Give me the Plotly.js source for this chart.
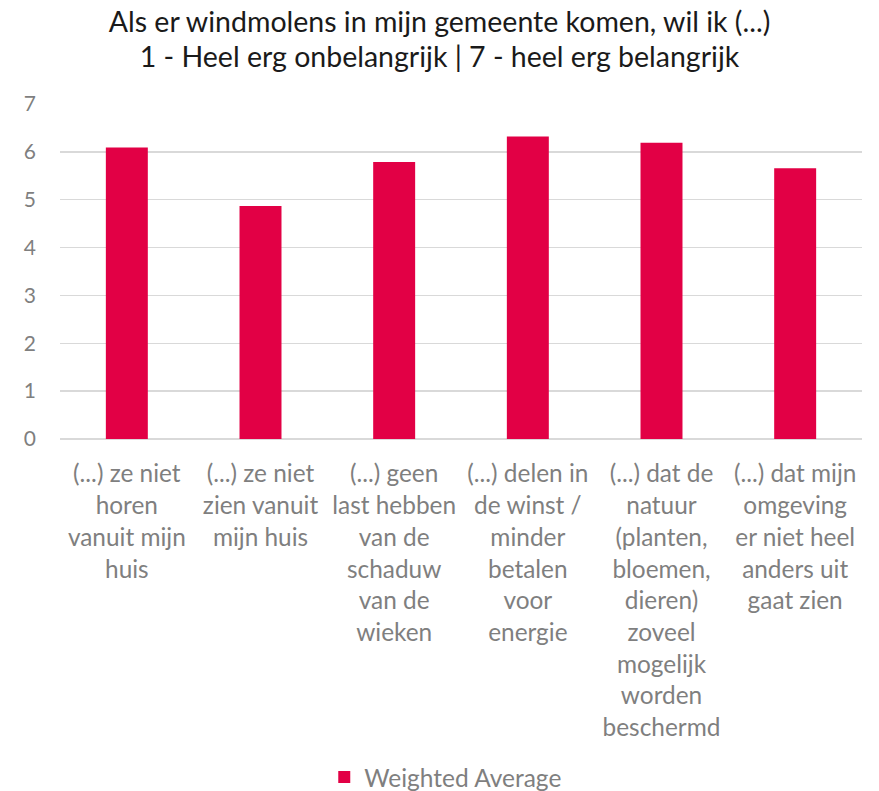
<!DOCTYPE html>
<html>
<head>
<meta charset="utf-8">
<script src="https://cdn.plot.ly/plotly-3.0.1.min.js"></script>
<style>html,body{margin:0;padding:0;background:#fff;}#chart{width:879px;height:791px;}</style>
</head>
<body>
<div id="chart"></div>
<script>
var categories = [
  ["(...) ze niet", "horen", "vanuit mijn", "huis"],
  ["(...) ze niet", "zien vanuit", "mijn huis"],
  ["(...) geen", "last hebben", "van de", "schaduw", "van de", "wieken"],
  ["(...) delen in", "de winst /", "minder", "betalen", "voor", "energie"],
  ["(...) dat de", "natuur", "(planten,", "bloemen,", "dieren)", "zoveel", "mogelijk", "worden", "beschermd"],
  ["(...) dat mijn", "omgeving", "er niet heel", "anders uit", "gaat zien"]
];
var values = [6.09, 4.87, 5.79, 6.32, 6.19, 5.66];
var seriesName = "Weighted Average";
var titleLines = ["Als er windmolens in mijn gemeente komen, wil ik (...)", "1 - Heel erg onbelangrijk | 7 - heel erg belangrijk"];
var yTicks = [0, 1, 2, 3, 4, 5, 6, 7];

var FONT = "Lato, 'Open Sans', sans-serif";
var labelText = categories.map(function (lines) { return lines.join('<br>'); });
var xKeys = categories.map(function (c, i) { return 'c' + i; });
var titleText = titleLines.map(function (l) { return '<span style="font-size:28.5px">' + l + '</span>'; }).join('<br>');

var trace = {
  type: 'bar',
  x: xKeys,
  y: values,
  name: seriesName,
  marker: { color: '#E20045' },
  showlegend: true
};

var layout = {
  width: 879,
  height: 791,
  paper_bgcolor: '#ffffff',
  plot_bgcolor: '#ffffff',
  margin: { l: 60, r: 17, t: 104, b: 352, autoexpand: false },
  bargap: 0.686,
  font: { family: FONT, color: '#7f7f7f' },
  title: {
    text: titleText,
    font: { family: FONT, size: 27, color: '#1a1a1a' },
    x: 0.5, xanchor: 'center',
    y: 0.96, yanchor: 'top'
  },
  xaxis: {
    type: 'category',
    tickvals: xKeys,
    ticktext: labelText,
    tickangle: 0,
    tickfont: { family: FONT, size: 24.4, color: '#7f7f7f' },
    showgrid: false,
    showline: false,
    zeroline: false,
    ticks: '',
    ticklabelstandoff: 18
  },
  yaxis: {
    range: [0, 7],
    tickvals: yTicks,
    ticktext: yTicks.map(String),
    tickfont: { family: FONT, size: 21, color: '#7f7f7f' },
    showgrid: true,
    gridcolor: '#d9d9d9',
    gridwidth: 1.5,
    zeroline: true,
    zerolinecolor: '#d9d9d9',
    zerolinewidth: 1.5,
    showline: false,
    ticks: '',
    ticklabelstandoff: 23,
    fixedrange: true
  },
  legend: {
    orientation: 'h',
    x: 0.481, xanchor: 'center',
    y: -1.009, yanchor: 'middle',
    font: { family: FONT, size: 24.5, color: '#7f7f7f' },
    itemwidth: 30
  }
};

Plotly.newPlot('chart', [trace], layout, { displayModeBar: false, staticPlot: true });
</script>
</body>
</html>
